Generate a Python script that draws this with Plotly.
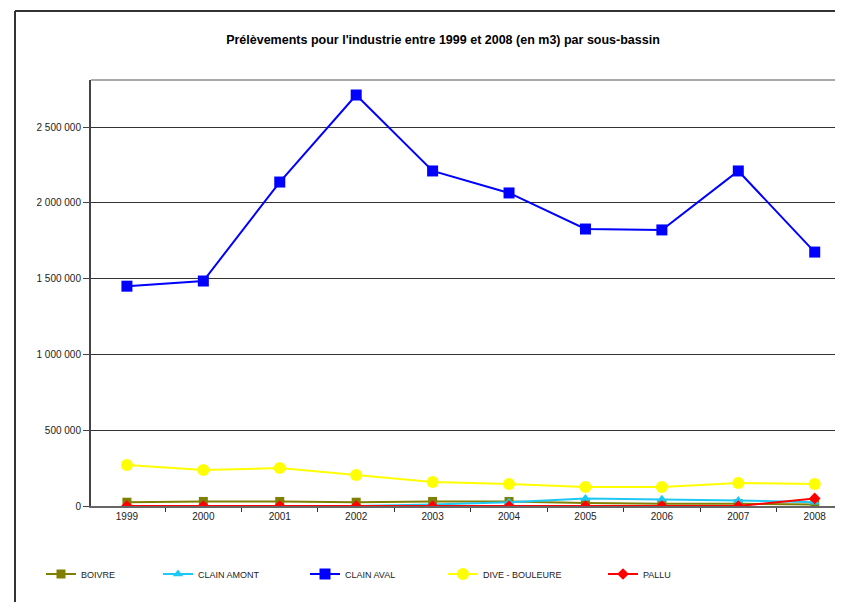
import plotly.graph_objects as go

years = ["1999", "2000", "2001", "2002", "2003", "2004", "2005", "2006", "2007", "2008"]
boivre = [25000, 30000, 30000, 25000, 30000, 30000, 20000, 15000, 15000, 10000]
clain_amont = [0, 0, 0, 0, 10000, 25000, 50000, 44000, 37000, 25000]
clain_aval = [1450000, 1484000, 2137000, 2711000, 2210000, 2065000, 1827000, 1821000, 2210000, 1675000]
dive_bouleure = [270000, 237000, 250000, 204000, 158000, 145000, 125000, 125000, 152000, 145000]
pallu = [0, 0, 0, 0, 0, 0, 0, 0, 0, 50000]

series = [
    ("BOIVRE", boivre, "#808000", "square", 9),
    ("CLAIN AMONT", clain_amont, "#1EC8F5", "triangle-up", 9),
    ("CLAIN AVAL", clain_aval, "#0000FF", "square", 11),
    ("DIVE - BOULEURE", dive_bouleure, "#FFFF00", "circle", 12),
    ("PALLU", pallu, "#FF0000", "diamond", 9),
]

FONT = "Liberation Sans, Arial, sans-serif"

# page body has an 8px margin
OFF = 8
W, H = 843 - OFF, 610 - 2 * OFF
L, T = 91 - OFF, 80 - OFF
B = H - (506 - OFF)
R = 0
PW = W - L - R
PH = H - T - B


def px_x(wx):
    return (wx - OFF - L) / PW


def px_y(wy):
    return (H - B - (wy - OFF)) / PH


legend_left_x = [41, 158, 305, 443, 603]

fig = go.Figure()
legends = {}
for i, (name, vals, color, sym, size) in enumerate(series):
    lg = "legend" if i == 0 else f"legend{i + 1}"
    fig.add_trace(go.Scatter(
        x=years, y=vals, name=name, mode="lines+markers",
        line=dict(color=color, width=2),
        marker=dict(symbol=sym, size=size, color=color),
        legend=lg,
    ))
    legends[lg] = dict(orientation="h", x=px_x(legend_left_x[i]), xanchor="left",
                       y=px_y(574), yanchor="middle", bgcolor="rgba(0,0,0,0)",
                       font=dict(family=FONT, size=9, color="#222"))

fig.update_layout(
    width=W, height=H,
    margin=dict(l=L, r=R, t=T, b=B),
    paper_bgcolor="white", plot_bgcolor="white",
    separators=", ",
    font=dict(family=FONT, size=10, color="#222"),
    title=dict(text="<b>Prélèvements pour l'industrie entre 1999 et 2008 (en m3) par sous-bassin</b>",
               x=(443 - OFF) / W, xanchor="center", y=1 - (40 - OFF) / H, yanchor="middle",
               font=dict(family=FONT, size=12.5, color="#000")),
    showlegend=True,
    xaxis=dict(type="category", range=[-0.47, 9.37], tickson="boundaries",
               ticks="outside", ticklen=4, tickcolor="#333",
               showline=True, linecolor="#666", linewidth=2,
               showgrid=False, zeroline=False),
    yaxis=dict(range=[0, 2810000], dtick=500000, tickformat=",d",
               ticks="outside", ticklen=6, tickcolor="#444",
               showline=True, linecolor="#444", linewidth=2,
               showgrid=True, gridcolor="#333", gridwidth=1, zeroline=False),
    shapes=[
        dict(type="line", xref="paper", yref="paper", x0=0, x1=1.2, y0=1, y1=1,
             line=dict(color="#aaaaaa", width=2)),
        dict(type="line", xref="paper", yref="paper", x0=px_x(15), x1=1.2, y0=px_y(11), y1=px_y(11),
             line=dict(color="#333", width=2)),
        dict(type="line", xref="paper", yref="paper", x0=px_x(15), x1=px_x(15), y0=px_y(11), y1=-0.4,
             line=dict(color="#333", width=2)),
    ],
    **legends,
)

fig.write_html("out.html")
